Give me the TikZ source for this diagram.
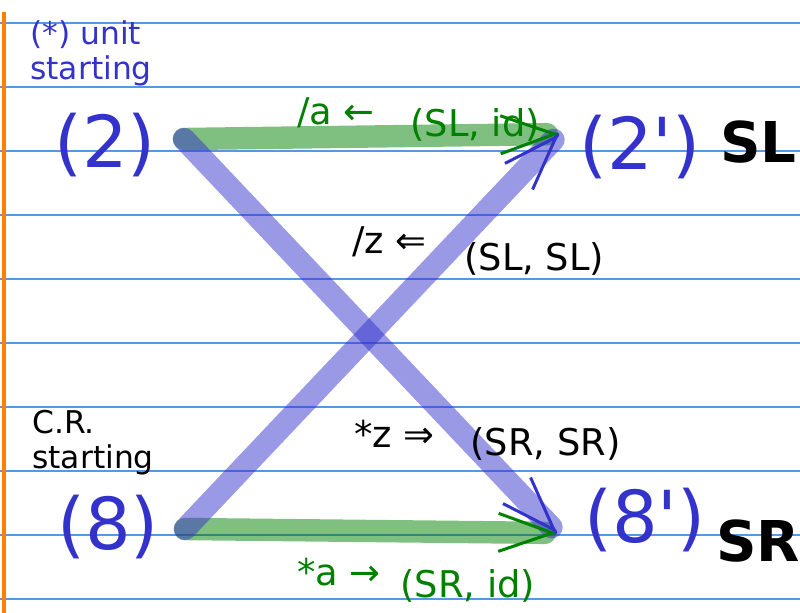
\documentclass[tikz,border=0pt]{standalone}
\usepackage{fontspec}
\setmainfont{DejaVu Sans}[Ligatures=TeXOff]
\usetikzlibrary{arrows.meta,calc}

\definecolor{ink}{RGB}{51,51,204}
\definecolor{grn}{RGB}{0,128,0}
\definecolor{rule}{RGB}{90,150,230}
\definecolor{margin}{RGB}{255,128,0}

\begin{document}
\begin{tikzpicture}[
  x=0.25mm, y=-0.25mm,
  lbl/.style  = {inner sep=0, anchor=base west, font=\fontsize{26.2}{30}\selectfont},
  big/.style  = {inner sep=0, anchor=base west, ink, font=\fontsize{51}{60}\selectfont},
  tag/.style  = {inner sep=0, anchor=base west, font=\fontsize{40}{48}\selectfont\bfseries},
  note/.style = {inner sep=0, anchor=north west, align=left, font=\fontsize{22.3}{25}\selectfont},
  gwide/.style = {line width=5.6mm, grn, opacity=.5, line cap=round},
  bwide/.style = {line width=5.6mm, ink, opacity=.5, line cap=round},
  tip/.style  = {line width=0.75mm, line cap=round, -{Straight Barb[length=13.5mm,width=9.5mm]}},
]
\useasboundingbox (0,0) rectangle (800,613);

% ruled paper
\foreach \yy in {23,87,...,599}
  \draw[rule, line width=0.4mm] (0,\yy) -- (800,\yy);
\draw[margin, line width=0.75mm] (4,12) -- (4,613);

\coordinate (p2)  at (184,139);
\coordinate (p2p) at (559,134);
\coordinate (p8)  at (185,529);
\coordinate (p8p) at (557,533);

\draw[gwide, shorten >=3mm] (p2) -- (p2p);
\draw[gwide, shorten >=3mm] (p8) -- (p8p);
\draw[bwide, shorten >=2mm] (p2) -- (p8p);
\draw[bwide, shorten >=2mm] (p8) -- (p2p);

\draw[tip,grn] ($(p2p)!1pt!(p2)$) -- (p2p);
\draw[tip,ink] ($(p2p)!1pt!(p8)$) -- (p2p);
\draw[tip,grn] ($(p8p)!1pt!(p8)$) -- (p8p);
\draw[tip,ink] ($(p8p)!1pt!(p2)$) -- (p8p);

\node[big] (n2)  at (54,167)  {(2)};
\node[big] (n2p) at (579,169) {(2')};
\node[tag] (sl)  at (720,162) {SL};
\node[big] (n8)  at (57,549)  {(8)};
\node[big] (n8p) at (584,542) {(8')};
\node[tag] (sr)  at (716,561) {SR};

\node[note,ink] (unit) at (30,20)  {(*) unit\\starting};
\node[note]     (cr)   at (32,410) {C.R.\\starting};

\node[lbl,grn] (la)    at (297,124) {/a ←};
\node[lbl,grn] (lslid) at (410,136) {(SL, id)};
\node[lbl]     (lz)    at (352,253) {/z ⇐};
\node[lbl]     (lslsl) at (464,270) {(SL, SL)};
\node[lbl]     (lzs)   at (354,447) {*z ⇒};
\node[lbl]     (lsrsr) at (470,455) {(SR, SR)};
\node[lbl,grn] (las)   at (297,585) {*a →};
\node[lbl,grn] (lsrid) at (400,597) {(SR, id)};
\end{tikzpicture}
\end{document}
